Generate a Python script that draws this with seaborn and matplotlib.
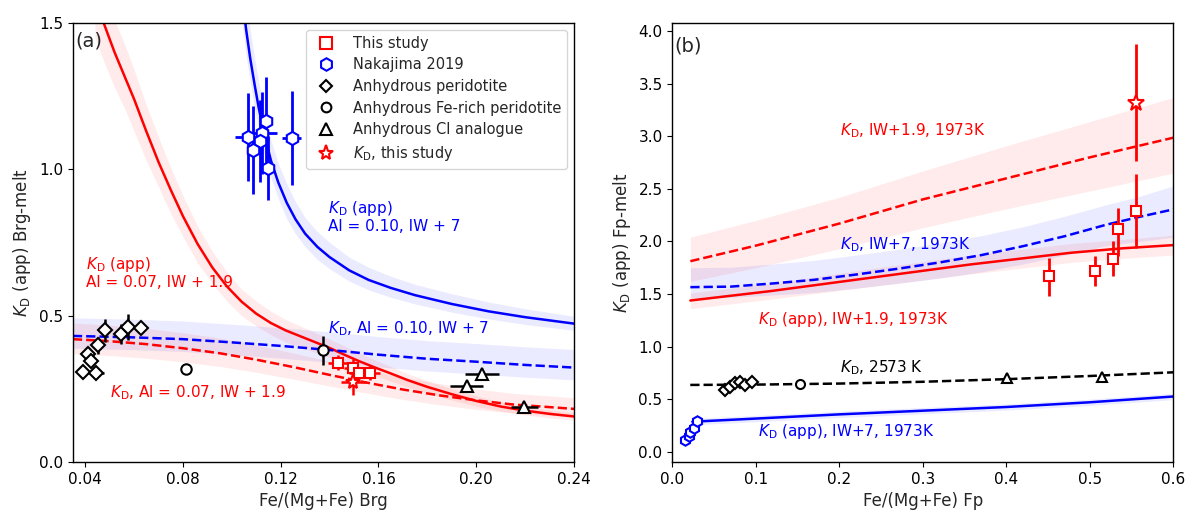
import numpy as np
import matplotlib
matplotlib.use("Agg")
import matplotlib.pyplot as plt
from matplotlib.lines import Line2D
import seaborn as sns

# ---------------- panel (a): bridgmanite ----------------
# model curves
brg_app_red_x = [0.044, 0.048, 0.052, 0.056, 0.060, 0.065, 0.070, 0.075, 0.080, 0.086, 0.092, 0.098, 0.104, 0.110, 0.116,
                 0.122, 0.128, 0.134, 0.140, 0.146, 0.152, 0.158, 0.165, 0.172, 0.180, 0.190, 0.200, 0.210, 0.220, 0.230, 0.240]
brg_app_red_y = [1.58, 1.49, 1.40, 1.32, 1.24, 1.13, 1.025, 0.93, 0.84, 0.745, 0.665, 0.60, 0.548, 0.507, 0.475,
                 0.45, 0.43, 0.41, 0.39, 0.367, 0.345, 0.325, 0.303, 0.28, 0.257, 0.232, 0.209, 0.19, 0.176, 0.165, 0.156]
brg_app_red_lo = [1.45, 1.36, 1.28, 1.21, 1.13, 1.03, 0.94, 0.85, 0.77, 0.68, 0.61, 0.55, 0.50, 0.465, 0.435,
                  0.41, 0.393, 0.375, 0.357, 0.336, 0.316, 0.297, 0.277, 0.256, 0.235, 0.212, 0.191, 0.174, 0.161, 0.151, 0.143]
brg_app_red_hi = [1.71, 1.61, 1.51, 1.43, 1.34, 1.22, 1.11, 1.005, 0.91, 0.805, 0.72, 0.65, 0.59, 0.55, 0.515,
                  0.487, 0.465, 0.443, 0.42, 0.397, 0.373, 0.351, 0.327, 0.302, 0.278, 0.251, 0.226, 0.205, 0.19, 0.178, 0.169]

brg_app_blue_x = [0.104, 0.1058, 0.1075, 0.1093, 0.111, 0.113, 0.116, 0.119, 0.1225, 0.126, 0.130, 0.135, 0.140,
                  0.148, 0.156, 0.165, 0.175, 0.190, 0.205, 0.220, 0.240]
brg_app_blue_y = [1.62, 1.48, 1.38, 1.29, 1.21, 1.13, 1.03, 0.955, 0.885, 0.83, 0.78, 0.735, 0.70,
                  0.655, 0.622, 0.595, 0.57, 0.54, 0.515, 0.495, 0.473]
brg_app_blue_lo = [1.52, 1.39, 1.30, 1.21, 1.14, 1.06, 0.97, 0.90, 0.83, 0.78, 0.735, 0.692, 0.66,
                   0.618, 0.588, 0.563, 0.54, 0.512, 0.489, 0.47, 0.45]
brg_app_blue_hi = [1.74, 1.59, 1.48, 1.38, 1.30, 1.21, 1.10, 1.02, 0.95, 0.89, 0.835, 0.787, 0.75,
                   0.70, 0.665, 0.635, 0.607, 0.575, 0.547, 0.524, 0.498]

brg_kd_blue_x = [0.035, 0.06, 0.08, 0.10, 0.12, 0.14, 0.16, 0.18, 0.20, 0.22, 0.24]
brg_kd_blue_y = [0.431, 0.426, 0.42, 0.409, 0.397, 0.383, 0.367, 0.353, 0.343, 0.332, 0.323]
brg_kd_blue_lo = [0.389, 0.384, 0.378, 0.367, 0.355, 0.341, 0.325, 0.311, 0.301, 0.29, 0.281]
brg_kd_blue_hi = [0.493, 0.488, 0.482, 0.471, 0.459, 0.445, 0.429, 0.415, 0.405, 0.394, 0.385]

brg_kd_red_x = [0.035, 0.05, 0.065, 0.08, 0.095, 0.11, 0.125, 0.14, 0.155, 0.17, 0.185, 0.20, 0.215, 0.23, 0.24]
brg_kd_red_y = [0.42, 0.413, 0.403, 0.389, 0.372, 0.35, 0.325, 0.298, 0.272, 0.248, 0.228, 0.211, 0.197, 0.188, 0.182]
brg_kd_red_lo = [0.37, 0.364, 0.355, 0.342, 0.327, 0.307, 0.284, 0.26, 0.236, 0.214, 0.196, 0.18, 0.168, 0.16, 0.155]
brg_kd_red_hi = [0.475, 0.468, 0.457, 0.442, 0.424, 0.40, 0.373, 0.344, 0.316, 0.29, 0.268, 0.25, 0.235, 0.226, 0.22]

# data points
this_brg_x = [0.1435, 0.1497, 0.1521, 0.1566]
this_brg_y = [0.340, 0.323, 0.303, 0.306]
this_brg_xerr = [0.004, 0.004, 0.004, 0.004]
this_brg_yerr = [0.025, 0.03, 0.02, 0.025]
kd_brg_x = [0.1497]
kd_brg_y = [0.275]

nak_x = [0.1065, 0.1140, 0.1124, 0.1116, 0.1087, 0.1245, 0.1148]
nak_y = [1.110, 1.166, 1.123, 1.096, 1.067, 1.107, 1.005]
nak_xerr = [0.005, 0.002, 0.006, 0.002, 0.002, 0.004, 0.002]
nak_yerr = [0.15, 0.15, 0.14, 0.14, 0.15, 0.16, 0.11]

per_brg_x = [0.048, 0.0546, 0.0576, 0.0627, 0.0453, 0.0412, 0.0426, 0.0392, 0.0446]
per_brg_y = [0.450, 0.437, 0.461, 0.459, 0.399, 0.369, 0.346, 0.309, 0.303]
per_brg_xerr = [0.001, 0.002, 0.001, 0.001, 0.001, 0.001, 0.001, 0.002, 0.003]
per_brg_yerr = [0.04, 0.035, 0.045, 0.01, 0.03, 0.02, 0.01, 0.0, 0.0]

fer_brg_x = [0.0812, 0.1374]
fer_brg_y = [0.319, 0.382]
fer_brg_xerr = [0.0, 0.002]
fer_brg_yerr = [0.0, 0.05]

ci_brg_x = [0.196, 0.2024, 0.2197]
ci_brg_y = [0.261, 0.301, 0.190]
ci_brg_xerr = [0.0068, 0.0069, 0.0054]

# ---------------- panel (b): ferropericlase ----------------
fp_kd_red_x = [0.0216, 0.1, 0.2, 0.3, 0.4, 0.5, 0.6]
fp_kd_red_y = [1.812, 1.96, 2.17, 2.40, 2.60, 2.80, 2.987]
fp_kd_red_lo = [1.62, 1.75, 1.93, 2.13, 2.31, 2.48, 2.65]
fp_kd_red_hi = [2.04, 2.20, 2.42, 2.67, 2.91, 3.14, 3.37]

fp_app_red_x = [0.0216, 0.117, 0.237, 0.357, 0.477, 0.54, 0.6]
fp_app_red_y = [1.438, 1.527, 1.654, 1.781, 1.892, 1.935, 1.965]
fp_app_red_lo = [1.36, 1.45, 1.57, 1.69, 1.80, 1.84, 1.87]
fp_app_red_hi = [1.51, 1.60, 1.74, 1.87, 1.98, 2.02, 2.06]

fp_kd_blue_x = [0.0216, 0.07, 0.12, 0.17, 0.22, 0.27, 0.32, 0.37, 0.42, 0.47, 0.52, 0.56, 0.6]
fp_kd_blue_y = [1.565, 1.57, 1.60, 1.635, 1.685, 1.74, 1.80, 1.87, 1.955, 2.05, 2.16, 2.235, 2.305]
fp_kd_blue_lo = [1.465, 1.468, 1.49, 1.515, 1.555, 1.60, 1.65, 1.71, 1.785, 1.87, 1.96, 2.0, 2.04]
fp_kd_blue_hi = [1.75, 1.755, 1.785, 1.82, 1.87, 1.925, 1.985, 2.055, 2.14, 2.24, 2.35, 2.43, 2.53]

fp_hot_x = [0.0215, 0.1, 0.2, 0.3, 0.4, 0.5, 0.6]
fp_hot_y = [0.635, 0.638, 0.648, 0.665, 0.69, 0.72, 0.755]

fp_app_blue_x = [0.024, 0.1, 0.2, 0.3, 0.4, 0.5, 0.6]
fp_app_blue_y = [0.285, 0.315, 0.355, 0.39, 0.425, 0.47, 0.525]
fp_app_blue_lo = [0.255, 0.285, 0.325, 0.36, 0.395, 0.44, 0.495]
fp_app_blue_hi = [0.315, 0.345, 0.385, 0.42, 0.455, 0.50, 0.555]

this_fp_x = [0.4515, 0.5066, 0.5278, 0.5338, 0.5553]
this_fp_y = [1.670, 1.717, 1.835, 2.114, 2.289]
this_fp_lo = [1.48, 1.574, 1.67, 1.86, 1.94]
this_fp_hi = [1.845, 1.86, 2.0, 2.32, 2.64]
kd_fp_x = [0.5553]
kd_fp_y = [3.321]
kd_fp_lo = [2.765]
kd_fp_hi = [3.876]

nak_fp_x = [0.0156, 0.0196, 0.0216, 0.0255, 0.0295]
nak_fp_y = [0.114, 0.146, 0.19, 0.225, 0.29]
per_fp_x = [0.0635, 0.0695, 0.0754, 0.0814, 0.0874, 0.0954]
per_fp_y = [0.59, 0.62, 0.65, 0.66, 0.63, 0.66]
fer_fp_x = [0.1525]
fer_fp_y = [0.64]
ci_fp_x = [0.401, 0.514]
ci_fp_y = [0.70, 0.71]


sns.set_style("ticks")
plt.rcParams['font.family'] = ['DejaVu Sans']
plt.rcParams['xtick.labelsize'] = 11
plt.rcParams['ytick.labelsize'] = 11
plt.rcParams['axes.labelsize'] = 12
plt.rcParams['axes.edgecolor'] = 'black'
plt.rcParams['xtick.color'] = 'black'
plt.rcParams['ytick.color'] = 'black'

fig, (ax1, ax2) = plt.subplots(1, 2, figsize=(11.95, 5.17), dpi=100)
fig.subplots_adjust(left=0.061, right=0.982, bottom=0.106, top=0.956, wspace=0.196)

LW = 1.8
BAND_A = 0.08


def curve(ax, x, y, color, ls, lo=None, hi=None):
    if lo is not None:
        ax.fill_between(x, lo, hi, color=color, alpha=BAND_A, lw=0, zorder=1)
    sns.lineplot(x=x, y=y, ax=ax, color=color, linestyle=ls, lw=LW, zorder=2)


def points(ax, x, y, marker, color, ms, xerr=None, yerr=None, elw=1.8):
    ax.errorbar(x, y, xerr=xerr, yerr=yerr, fmt=marker, color=color, mfc='white',
                mec=color, ms=ms, mew=1.5, elinewidth=elw, capsize=0, zorder=4)


# ---- panel (a)
curve(ax1, brg_app_red_x, brg_app_red_y, 'red', '-', brg_app_red_lo, brg_app_red_hi)
curve(ax1, brg_app_blue_x, brg_app_blue_y, 'blue', '-', brg_app_blue_lo, brg_app_blue_hi)
curve(ax1, brg_kd_blue_x, brg_kd_blue_y, 'blue', '--', brg_kd_blue_lo, brg_kd_blue_hi)
curve(ax1, brg_kd_red_x, brg_kd_red_y, 'red', '--', brg_kd_red_lo, brg_kd_red_hi)

points(ax1, nak_x, nak_y, 'h', 'blue', 9.5, nak_xerr, nak_yerr, elw=2)
points(ax1, per_brg_x, per_brg_y, 'D', 'black', 7, per_brg_xerr, per_brg_yerr)
points(ax1, fer_brg_x, fer_brg_y, 'o', 'black', 7.5, fer_brg_xerr, fer_brg_yerr)
points(ax1, ci_brg_x, ci_brg_y, '^', 'black', 8, ci_brg_xerr, None)
points(ax1, this_brg_x, this_brg_y, 's', 'red', 7.5, this_brg_xerr, this_brg_yerr)
points(ax1, kd_brg_x, kd_brg_y, '*', 'red', 11, [0.005], [0.045])

ax1.set_xlim(0.035, 0.24)
ax1.set_ylim(0, 1.5)
ax1.set_xticks([0.04, 0.08, 0.12, 0.16, 0.20, 0.24])
ax1.set_yticks([0.0, 0.5, 1.0, 1.5])
ax1.set_xlabel("Fe/(Mg+Fe) Brg")
ax1.set_ylabel(r"$K_\mathrm{D}$ (app) Brg-melt")
ax1.text(0.004, 0.958, "(a)", transform=ax1.transAxes, fontsize=14, va='center')

ax1.text(0.1395, 0.84, "$K_\\mathrm{D}$ (app)\nAl = 0.10, IW + 7", color='blue', fontsize=11,
         va='center', ha='left', linespacing=1.1)
ax1.text(0.1395, 0.455, "$K_\\mathrm{D}$, Al = 0.10, IW + 7", color='blue', fontsize=11,
         va='center', ha='left')
ax1.text(0.0403, 0.647, "$K_\\mathrm{D}$ (app)\nAl = 0.07, IW + 1.9", color='red', fontsize=11,
         va='center', ha='left', linespacing=1.1)
ax1.text(0.0503, 0.238, "$K_\\mathrm{D}$, Al = 0.07, IW + 1.9", color='red', fontsize=11,
         va='center', ha='left')

handles = [
    Line2D([], [], ls='none', marker='s', ms=8, mfc='white', mec='red', mew=1.5),
    Line2D([], [], ls='none', marker='h', ms=9, mfc='white', mec='blue', mew=1.5),
    Line2D([], [], ls='none', marker='D', ms=6.5, mfc='white', mec='black', mew=1.5),
    Line2D([], [], ls='none', marker='o', ms=7, mfc='white', mec='black', mew=1.5),
    Line2D([], [], ls='none', marker='^', ms=8, mfc='white', mec='black', mew=1.5),
    Line2D([], [], ls='none', marker='*', ms=11, mfc='white', mec='red', mew=1.5),
]
labels = ["This study", "Nakajima 2019", "Anhydrous peridotite", "Anhydrous Fe-rich peridotite",
          "Anhydrous CI analogue", "$K_\\mathrm{D}$, this study"]
ax1.legend(handles, labels, loc='upper right', fontsize=10.5, labelspacing=0.45)

# ---- panel (b)
curve(ax2, fp_kd_red_x, fp_kd_red_y, 'red', '--', fp_kd_red_lo, fp_kd_red_hi)
curve(ax2, fp_kd_blue_x, fp_kd_blue_y, 'blue', '--', fp_kd_blue_lo, fp_kd_blue_hi)
curve(ax2, fp_app_red_x, fp_app_red_y, 'red', '-', fp_app_red_lo, fp_app_red_hi)
curve(ax2, fp_hot_x, fp_hot_y, 'black', '--')
curve(ax2, fp_app_blue_x, fp_app_blue_y, 'blue', '-', fp_app_blue_lo, fp_app_blue_hi)

sq_err = [np.subtract(this_fp_y, this_fp_lo), np.subtract(this_fp_hi, this_fp_y)]
st_err = [np.subtract(kd_fp_y, kd_fp_lo), np.subtract(kd_fp_hi, kd_fp_y)]
points(ax2, this_fp_x, this_fp_y, 's', 'red', 7.5, None, sq_err, elw=2)
points(ax2, kd_fp_x, kd_fp_y, '*', 'red', 12, None, st_err, elw=2)
points(ax2, nak_fp_x, nak_fp_y, 'h', 'blue', 7.5)
points(ax2, per_fp_x, per_fp_y, 'D', 'black', 6)
points(ax2, fer_fp_x, fer_fp_y, 'o', 'black', 6.5)
points(ax2, ci_fp_x, ci_fp_y, '^', 'black', 7)

ax2.set_xlim(0, 0.6)
ax2.set_ylim(-0.1, 4.08)
ax2.set_yticks(np.arange(0, 4.01, 0.5))
ax2.set_xlabel("Fe/(Mg+Fe) Fp")
ax2.set_ylabel(r"$K_\mathrm{D}$ (app) Fp-melt")
ax2.text(0.004, 0.948, "(b)", transform=ax2.transAxes, fontsize=14, va='center')

ax2.text(0.201, 3.05, "$K_\\mathrm{D}$, IW+1.9, 1973K", color='red', fontsize=11, va='center')
ax2.text(0.201, 1.97, "$K_\\mathrm{D}$, IW+7, 1973K", color='blue', fontsize=11, va='center')
ax2.text(0.102, 1.257, "$K_\\mathrm{D}$ (app), IW+1.9, 1973K", color='red', fontsize=11, va='center')
ax2.text(0.201, 0.80, "$K_\\mathrm{D}$, 2573 K", color='black', fontsize=11, va='center')
ax2.text(0.102, 0.19, "$K_\\mathrm{D}$ (app), IW+7, 1973K", color='blue', fontsize=11, va='center')

for ax in (ax1, ax2):
    for s in ax.spines.values():
        s.set_visible(True)
        s.set_linewidth(1.0)

fig.savefig("out.png", dpi=100)
